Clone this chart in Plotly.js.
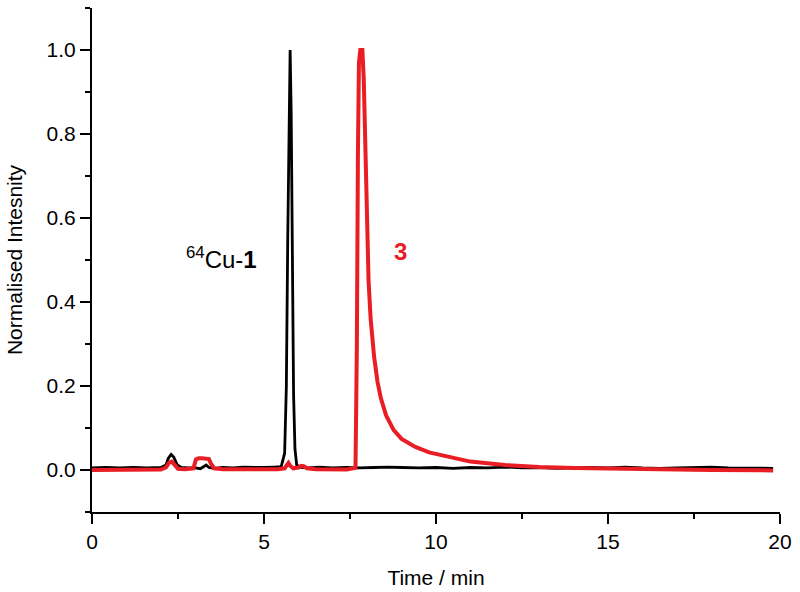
<!DOCTYPE html>
<html>
<head>
<meta charset="utf-8">
<script src="https://cdn.plot.ly/plotly-3.0.1.min.js"></script>
<style>
  html, body { margin: 0; padding: 0; background: #ffffff; }
  #chart { width: 800px; height: 592px; }
</style>
</head>
<body>
<div id="chart"></div>
<script>
// Black trace: 64Cu-1
const t_black = [0.0,0.4,0.8,1.2,1.6,2.0,2.15,2.22,2.3,2.38,2.48,2.6,2.8,3.0,3.15,3.25,3.32,3.4,3.55,3.8,4.1,4.4,4.7,5.0,5.3,5.5,5.6,5.65,5.69,5.73,5.76,5.79,5.82,5.86,5.9,5.95,6.05,6.3,6.6,7.0,7.4,7.8,8.2,8.6,9.0,9.5,10,10.5,11,11.5,12,12.5,13,13.5,14,14.5,15,15.5,16,16.5,17,17.5,18,18.5,19,19.8];
const y_black = [0.005,0.006,0.005,0.006,0.005,0.006,0.012,0.028,0.037,0.03,0.012,0.006,0.005,0.005,0.003,0.008,0.012,0.006,0.004,0.006,0.005,0.007,0.006,0.006,0.007,0.008,0.04,0.2,0.55,0.9,1.0,0.85,0.5,0.18,0.05,0.012,0.006,0.005,0.007,0.005,0.006,0.005,0.006,0.007,0.006,0.005,0.006,0.004,0.006,0.005,0.007,0.005,0.006,0.004,0.005,0.006,0.005,0.007,0.005,0.004,0.005,0.006,0.007,0.005,0.004,0.004];

// Red trace: 3
const t_red = [0.0,0.5,1.0,1.5,2.0,2.15,2.25,2.32,2.4,2.5,2.7,2.95,3.02,3.1,3.2,3.3,3.4,3.46,3.55,3.8,4.2,4.6,5.0,5.4,5.6,5.66,5.71,5.76,5.85,6.0,6.08,6.15,6.25,6.5,7.0,7.4,7.66,7.7,7.73,7.76,7.8,7.86,7.9,7.94,7.98,8.04,8.1,8.2,8.3,8.4,8.55,8.77,9.0,9.4,9.8,10.4,11,12,13,14,15,16,17,18,19,19.8];
const y_red = [0.0,0.0,0.0,0.0,0.001,0.006,0.018,0.02,0.012,0.003,0.002,0.004,0.025,0.028,0.028,0.028,0.026,0.015,0.004,0.002,0.002,0.001,0.001,0.002,0.004,0.012,0.017,0.01,0.004,0.006,0.01,0.009,0.004,0.002,0.001,0.001,0.005,0.3,0.75,0.97,1.0,1.0,0.93,0.8,0.62,0.45,0.36,0.27,0.21,0.17,0.13,0.095,0.074,0.055,0.042,0.03,0.02,0.012,0.007,0.005,0.003,0.002,0.001,0.0,0.0,-0.001];

const xTitle = "Time / min";
const yTitle = "Normalised Intesnity";
const label1 = "<sup>64</sup>Cu-<b>1</b>";
const label3 = "<b>3</b>";

const FONT = "Liberation Sans, Arial, sans-serif";
const RED = "rgb(232,30,36)";

const traces = [
  { x: t_black, y: y_black, type: "scatter", mode: "lines",
    line: { color: "#000000", width: 2.8 }, showlegend: false, hoverinfo: "skip" },
  { x: t_red, y: y_red, type: "scatter", mode: "lines",
    line: { color: RED, width: 4 }, showlegend: false, hoverinfo: "skip" }
];

const axisCommon = {
  showgrid: false, zeroline: false, showline: true,
  linecolor: "#000", linewidth: 2,
  ticks: "outside", ticklen: 10, tickwidth: 2, tickcolor: "#000",
  tickfont: { family: FONT, size: 21, color: "#000" },
  mirror: false
};

const layout = {
  width: 800, height: 592,
  paper_bgcolor: "#ffffff", plot_bgcolor: "#ffffff",
  margin: { l: 92, r: 20, t: 8, b: 80 },
  showlegend: false,
  xaxis: Object.assign({}, axisCommon, {
    range: [0, 20], tick0: 0, dtick: 5,
    title: { text: xTitle, font: { family: FONT, size: 21, color: "#000" }, standoff: 18 },
    minor: { dtick: 2.5, tick0: 0, ticks: "outside", ticklen: 5, tickwidth: 2, tickcolor: "#000", showgrid: false }
  }),
  yaxis: Object.assign({}, axisCommon, {
    range: [-0.1, 1.1], tick0: 0, dtick: 0.2, tickformat: ".1f",
    title: { text: yTitle, font: { family: FONT, size: 21, color: "#000" }, standoff: 18 },
    minor: { dtick: 0.1, tick0: 0, ticks: "outside", ticklen: 5, tickwidth: 2, tickcolor: "#000", showgrid: false }
  }),
  annotations: [
    { x: 3.76, y: 0.505, xref: "x", yref: "y", text: label1, showarrow: false,
      font: { family: FONT, size: 24, color: "#000" } },
    { x: 8.98, y: 0.52, xref: "x", yref: "y", text: label3, showarrow: false,
      font: { family: FONT, size: 24, color: RED } }
  ]
};

Plotly.newPlot("chart", traces, layout, { staticPlot: true, displayModeBar: false });
</script>
</body>
</html>
